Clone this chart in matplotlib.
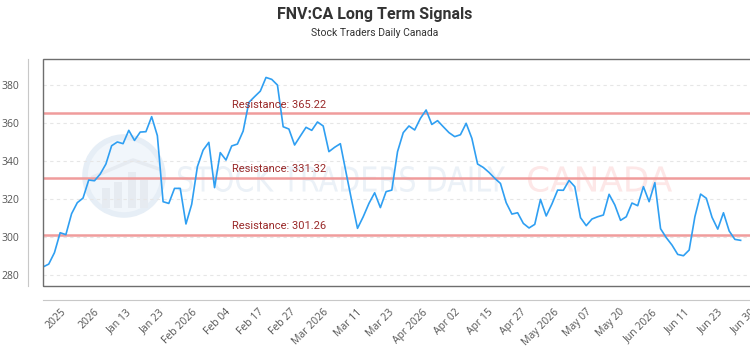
import numpy as np
import matplotlib
matplotlib.use("Agg")
import matplotlib.pyplot as plt
from matplotlib.patches import PathPatch, Circle, Rectangle
from matplotlib.textpath import TextPath
from matplotlib.font_manager import FontProperties
from matplotlib.transforms import Affine2D

plt.rcParams['font.family'] = ['Open Sans', 'DejaVu Sans']

# Closing prices (one per trading day)
prices = [
    284.4, 285.9, 291.9, 302.4, 301.4, 312.4, 318.2, 320.6, 330.1, 329.7,
    333.2, 338.5, 348.1, 350.1, 349.2, 356.2, 350.9, 355.3, 355.5, 363.4,
    353.4, 318.7, 317.8, 325.7, 325.7, 307.0, 317.3, 337.1, 345.8, 349.9,
    326.1, 344.5, 340.6, 348.0, 349.0, 355.8, 370.9, 373.9, 376.8, 384.0,
    383.0, 380.0, 358.1, 356.9, 348.5, 353.2, 357.8, 356.2, 360.6, 358.5,
    345.0, 347.3, 349.2, 334.0, 319.0, 304.7, 310.8, 317.8, 323.4, 315.6,
    324.0, 324.8, 345.0, 355.0, 358.5, 356.4, 362.5, 366.9, 359.3, 361.3,
    358.1, 355.0, 352.9, 353.9, 359.9, 352.0, 338.5, 336.7, 334.1, 331.0,
    328.3, 318.2, 312.2, 312.9, 307.3, 304.9, 306.8, 319.9, 311.2, 317.5,
    324.8, 324.7, 329.9, 326.6, 310.3, 306.1, 309.6, 310.8, 311.7, 322.6,
    317.0, 308.9, 310.8, 318.0, 316.6, 326.6, 318.7, 328.7, 304.5, 299.8,
    295.9, 291.0, 290.3, 293.3, 310.8, 322.7, 320.5, 310.5, 304.3, 312.9,
    303.3, 298.9, 298.4,
]

resistance_levels = [365.22, 331.32, 301.26]

tick_labels = ['2025', '2026', 'Jan 13', 'Jan 23', 'Feb 2026', 'Feb 04', 'Feb 17',
               'Feb 27', 'Mar 2026', 'Mar 11', 'Mar 23', 'Apr 2026', 'Apr 02',
               'Apr 15', 'Apr 27', 'May 2026', 'May 07', 'May 20', 'Jun 2026',
               'Jun 11', 'Jun 23', 'Jun 30']

y_ticks = [280, 300, 320, 340, 360, 380]

W, H = 750, 350
fig = plt.figure(figsize=(W / 100, H / 100), dpi=100)
ax = fig.add_axes([43 / W, 1 - 286 / H, 707 / W, 227 / H])

x = np.arange(len(prices))
ax.set_xlim(0, len(prices) - 1)
ax.set_ylim(274.4, 393.7)


def px_patch(text, x0, y_top, w, h, color, z=0.2, family='DejaVu Sans', weight='normal'):
    """Draw a text outline stretched into a pixel box (watermark)"""
    tp = TextPath((0, 0), text, size=1, prop=FontProperties(family=family, weight=weight))
    bb = tp.get_extents()
    sx, sy = w / bb.width, h / bb.height
    trf = (Affine2D().translate(-bb.x0, -bb.y0).scale(sx, sy)
           .translate(x0, H - y_top - h).scale(1 / 100) + fig.dpi_scale_trans)
    ax.add_patch(PathPatch(tp, transform=trf, facecolor=color, edgecolor='none',
                           zorder=z, clip_on=False))


# Watermark logo
inch = fig.dpi_scale_trans
ax.add_patch(Circle((124 / 100, (H - 176) / 100), 0.39, transform=inch,
                    facecolor='#f1f6fb', edgecolor='#e6eef6', lw=4, zorder=0.1, clip_on=False))
for bx, btop in [(102, 188), (114, 182), (128, 172), (140, 180)]:
    ax.add_patch(Rectangle((bx / 100, (H - 208) / 100), 0.08, (208 - btop) / 100,
                           transform=inch, facecolor='#e6ebf1', edgecolor='none',
                           zorder=0.15, clip_on=False))
ax.plot([93 / 100, 133 / 100, 162 / 100], [(H - 177) / 100, (H - 160) / 100, (H - 170) / 100],
        transform=inch, color='#e6ebf1', lw=2.5, zorder=0.15, clip_on=False)
px_patch('STOCK TRADERS DAILY', 178, 166, 327, 26, '#ebf1f7')
px_patch('CANADA', 528, 166, 144, 26, '#fde7e7')

# Grid
ax.set_yticks(y_ticks)
ax.yaxis.grid(True, color='#e6e6e6', linestyle=(0, (3, 3)), lw=0.8, zorder=0.3)
ax.set_axisbelow(True)

# Resistance lines
for lvl in resistance_levels:
    ax.axhline(lvl, color='#f09c9c', lw=1.8, zorder=1)
    ax.text(33.1, lvl + 1.9, f'Resistance: {lvl:.2f}', color='#9a2a2a', fontsize=8,
            family=['Roboto', 'DejaVu Sans'], ha='left', va='bottom', zorder=3)

# Price line
ax.plot(x, prices, color='#2f9ff2', lw=1.2, zorder=2)

# Frame and offset axis lines
for side in ['top', 'right']:
    ax.spines[side].set_visible(False)
ax.spines['left'].set_position(('outward', 11))
ax.spines['bottom'].set_position(('outward', 10))
ax.spines['left'].set_color('#c8c8c8')
ax.spines['bottom'].set_color('#c8c8c8')
ax.add_patch(Rectangle((0, 0), 1.2, 1, transform=ax.transAxes, fill=False,
                       edgecolor='#6e6e6e', lw=1, zorder=4, clip_on=False))

tick_pos = 3.1 + 5.74 * np.arange(len(tick_labels))
ax.set_xticks(tick_pos)
ax.set_xticklabels(tick_labels, rotation=45, ha='right', rotation_mode='anchor')
ax.tick_params(axis='x', length=0, pad=5, labelsize=7.5, colors='#555555')
ax.tick_params(axis='y', length=0, pad=6, labelsize=7.5, colors='#555555')

fig.text(0.5, 1 - 15 / H, 'FNV:CA Long Term Signals', ha='center', va='center',
         fontsize=11.5, weight='bold', color='#333333', family=['Roboto', 'DejaVu Sans'])
fig.text(0.5, 1 - 33 / H, 'Stock Traders Daily Canada', ha='center', va='center',
         fontsize=7.5, color='#333333', family=['Roboto', 'DejaVu Sans'])

fig.savefig('out.png', dpi=100, facecolor='white')
